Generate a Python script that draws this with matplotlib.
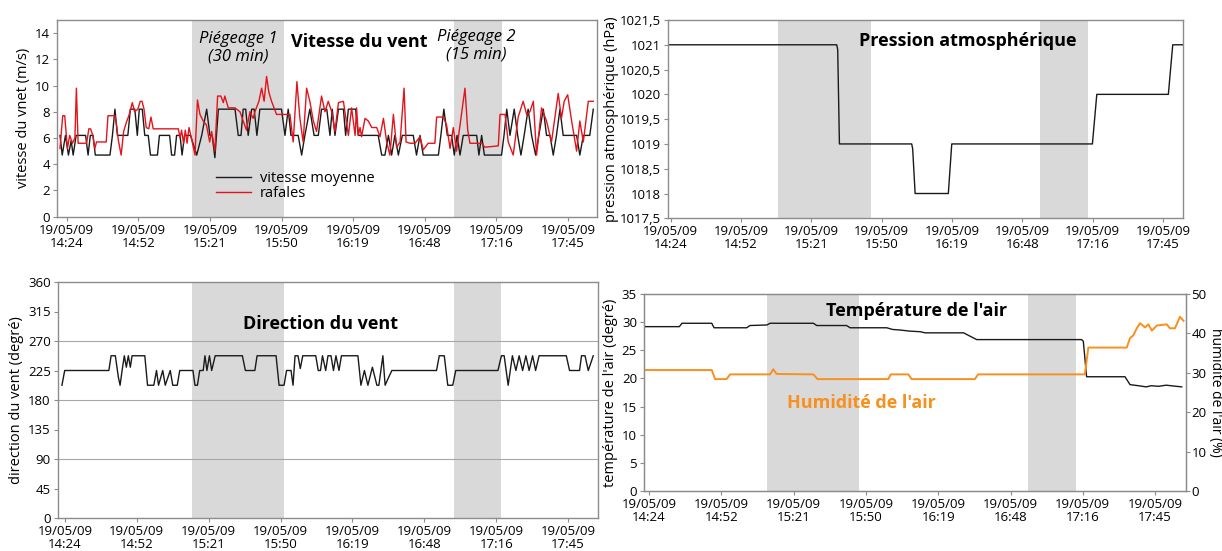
import matplotlib
matplotlib.use("Agg")
import matplotlib.pyplot as plt

plt.rcParams['font.family'] = ['Open Sans', 'DejaVu Sans']

# -------------------------
# data (time = minutes after 19/05/09 14:24)
# -------------------------
tick_pos = [0, 28.8, 57.6, 86.4, 115.2, 144.0, 172.8, 201.6]
tick_labels = ["19/05/09\n14:24", "19/05/09\n14:52", "19/05/09\n15:21", "19/05/09\n15:50",
               "19/05/09\n16:19", "19/05/09\n16:48", "19/05/09\n17:16", "19/05/09\n17:45"]

wind_mean = [(-2.7, 6.2), (-1.8, 4.7), (-0.5, 6.2), (0.7, 4.7), (1.8, 5.8), (2.6, 4.7), (3.8, 6.2),
             (7.6, 6.2), (8.6, 4.7), (9.5, 6.2), (10.6, 6.2), (11.5, 4.7), (17.4, 4.7), (18.4, 6.2),
             (19.4, 8.2), (20.4, 6.2), (24.6, 6.2), (25.6, 8.2), (27.4, 8.2), (28.4, 6.2), (29.2, 8.2),
             (30.4, 8.2), (31.4, 6.2), (32.8, 6.2), (33.7, 4.7), (36.5, 4.7), (37.3, 6.2), (41.4, 6.2),
             (42.2, 4.7), (43.4, 4.7), (44.2, 6.2), (45.6, 6.2), (46.4, 4.7), (47.4, 6.2), (49.8, 6.2),
             (52.3, 4.7), (54.3, 6.2), (56.3, 8.2), (57.6, 6.2), (58.5, 6.2), (59.6, 4.5), (61.0, 8.2),
             (67.7, 8.2), (69.0, 6.2), (70.1, 6.2), (71.0, 8.2), (72.0, 8.2), (73.0, 6.2), (74.4, 8.2),
             (75.4, 8.2), (76.5, 6.2), (77.7, 8.2), (86.4, 8.2), (87.8, 6.2), (89.1, 8.2), (90.2, 6.2),
             (93.1, 6.2), (94.5, 4.7), (95.8, 6.2), (97.8, 8.2), (99.5, 6.2), (101.2, 6.2), (102.5, 8.2),
             (104.6, 8.2), (105.9, 6.2), (106.8, 8.2), (107.9, 6.2), (109.3, 8.2), (111.3, 8.2),
             (112.2, 6.2), (113.3, 8.2), (116.2, 8.2), (117.3, 6.2), (125.3, 6.2), (126.7, 4.7),
             (128.0, 4.7), (129.4, 6.2), (130.7, 4.7), (132.0, 6.2), (133.4, 4.7), (135.0, 6.2),
             (139.4, 6.2), (140.7, 4.7), (142.1, 6.2), (143.4, 4.7), (149.5, 4.7), (150.5, 6.2),
             (151.7, 8.2), (153.1, 6.2), (154.8, 6.2), (155.9, 4.7), (157.0, 6.2), (158.2, 4.7),
             (159.5, 6.2), (164.9, 6.2), (165.8, 4.7), (166.9, 6.2), (168.0, 4.7), (174.9, 4.7),
             (175.9, 6.2), (177.0, 8.2), (178.3, 6.2), (180.0, 8.2), (181.4, 6.2), (182.7, 4.7),
             (184.0, 6.2), (185.6, 8.2), (187.0, 6.2), (188.6, 4.7), (189.9, 6.2), (191.7, 8.2),
             (193.0, 6.2), (194.4, 6.2), (195.7, 4.7), (197.0, 6.2), (198.4, 8.2), (199.7, 6.2),
             (205.1, 6.2), (206.4, 4.7), (207.8, 6.2), (210.4, 6.2), (211.8, 8.2)]

wind_gust = [(-2.7, 5.2), (-1.6, 7.7), (-0.8, 7.7), (0.3, 5.2), (1.2, 6.2), (2.3, 5.6), (3.3, 6.0),
             (3.9, 9.8), (4.6, 5.6), (8.0, 5.6), (8.9, 6.7), (9.6, 6.7), (10.5, 6.2), (11.3, 5.2),
             (12.0, 5.7), (15.9, 5.7), (16.6, 7.7), (19.4, 7.7), (19.9, 7.2), (20.8, 5.8), (21.9, 4.7),
             (22.9, 6.5), (24.0, 7.2), (25.0, 7.7), (26.4, 8.7), (27.3, 8.0), (28.6, 8.2), (29.6, 8.8),
             (30.3, 8.8), (31.1, 8.2), (32.0, 6.8), (33.0, 6.7), (33.9, 7.6), (34.8, 6.7), (44.9, 6.7),
             (45.6, 6.0), (46.2, 6.6), (47.0, 5.6), (47.7, 6.6), (48.4, 5.6), (49.2, 6.8), (50.5, 5.7),
             (51.6, 4.7), (52.6, 8.9), (53.6, 7.8), (54.9, 7.3), (56.2, 7.0), (57.5, 5.7), (58.3, 6.5),
             (59.6, 5.0), (60.7, 9.2), (62.0, 9.2), (63.0, 8.7), (63.6, 9.2), (65.0, 8.3), (67.7, 8.3),
             (69.7, 8.0), (71.0, 7.3), (72.3, 6.6), (73.7, 8.0), (75.0, 7.5), (75.7, 8.0), (77.3, 8.8),
             (78.4, 9.8), (79.4, 8.8), (80.4, 10.7), (81.3, 9.5), (82.4, 8.8), (84.4, 7.8), (89.8, 7.8),
             (91.1, 5.7), (91.8, 7.8), (92.6, 10.3), (93.8, 7.5), (95.1, 5.7), (96.5, 9.8), (97.8, 8.8),
             (99.2, 7.3), (100.5, 6.5), (102.5, 9.2), (103.9, 8.0), (105.2, 8.8), (106.6, 8.0),
             (107.9, 6.5), (109.3, 8.7), (111.3, 8.8), (111.9, 8.0), (113.3, 6.2), (114.6, 8.3),
             (116.0, 6.2), (116.6, 8.3), (117.3, 6.2), (118.0, 6.8), (118.6, 6.1), (120.0, 7.5),
             (121.3, 7.3), (122.7, 6.8), (124.7, 6.8), (126.0, 6.1), (127.4, 7.5), (128.7, 5.7),
             (130.0, 4.7), (131.4, 7.8), (132.7, 5.3), (134.1, 5.7), (135.7, 9.8), (136.5, 5.7),
             (138.1, 5.6), (140.1, 5.6), (142.1, 6.1), (143.4, 5.1), (145.4, 5.6), (148.1, 5.6),
             (148.8, 7.6), (151.5, 7.6), (152.8, 7.0), (154.2, 5.2), (155.5, 6.8), (156.8, 5.0),
             (158.2, 7.0), (160.2, 9.8), (161.3, 6.6), (162.2, 5.6), (166.9, 5.6), (168.2, 5.3),
             (173.6, 5.4), (174.3, 7.8), (176.3, 7.8), (177.6, 5.7), (179.6, 4.7), (181.6, 7.6),
             (183.6, 8.8), (185.0, 7.8), (186.3, 8.0), (187.7, 8.8), (189.0, 4.7), (191.0, 8.3),
             (193.0, 7.3), (195.0, 5.7), (197.7, 9.4), (199.0, 7.5), (200.1, 8.8), (201.5, 9.3),
             (203.1, 7.3), (205.1, 5.0), (206.4, 7.3), (207.8, 5.7), (209.8, 8.8), (211.8, 8.8)]

pressure = [(-1.1, 1021), (68.0, 1021), (68.4, 1020.9), (69.1, 1019), (98.7, 1019), (99.1, 1018.9),
            (100.1, 1018), (113.7, 1018), (115.1, 1019), (172.7, 1019), (174.5, 1020), (203.8, 1020),
            (205.6, 1021), (209.8, 1021)]

direction = [(-1.2, 202.5), (-0.1, 225), (17.6, 225), (18.5, 247.5), (20.2, 247.5), (21.4, 215),
             (22.1, 202.5), (22.9, 225), (23.8, 247.5), (24.6, 230), (25.4, 247.5), (26.2, 230),
             (26.9, 247.5), (32.0, 247.5), (33.1, 202.5), (35.6, 202.5), (36.7, 225), (37.5, 202.5),
             (39.2, 225), (40.2, 202.5), (42.2, 225), (43.2, 202.5), (45.0, 202.5), (46.0, 225),
             (51.3, 225), (52.1, 202.5), (53.1, 202.5), (54.0, 225), (55.4, 225), (56.1, 247.5),
             (56.9, 225), (57.9, 247.5), (58.8, 225), (60.2, 247.5), (71.1, 247.5), (72.3, 225),
             (76.1, 225), (77.0, 247.5), (84.6, 247.5), (85.8, 202.5), (87.8, 202.5), (88.8, 225),
             (90.6, 225), (91.4, 202.5), (92.2, 247.5), (93.4, 247.5), (94.3, 228), (95.3, 247.5),
             (100.5, 247.5), (101.5, 225), (102.4, 225), (103.2, 247.5), (104.5, 225), (105.4, 247.5),
             (106.6, 247.5), (107.6, 225), (108.6, 247.5), (109.8, 225), (110.8, 247.5), (117.4, 247.5),
             (118.6, 202.5), (120.0, 225), (121.4, 202.5), (123.2, 230), (125.0, 202.5), (125.8, 202.5),
             (127.4, 247.5), (128.3, 202.5), (129.4, 212), (131.0, 225), (148.9, 225), (150.0, 247.5),
             (152.0, 247.5), (153.4, 202.5), (155.4, 202.5), (156.6, 225), (173.5, 225), (174.9, 247.5),
             (176.0, 247.5), (177.6, 202.5), (179.3, 247.5), (180.7, 225), (182.0, 247.5), (183.4, 225),
             (184.7, 247.5), (186.0, 225), (187.4, 247.5), (188.6, 225), (190.0, 247.5), (200.9, 247.5),
             (202.2, 225), (206.2, 225), (207.0, 247.5), (208.4, 247.5), (209.7, 225), (211.7, 247.5)]

temperature = [(-1.6, 29.2), (12.1, 29.2), (13.1, 29.8), (25.0, 29.8), (25.9, 29.0), (38.9, 29.0),
               (40.2, 29.4), (47.0, 29.5), (48.2, 29.8), (65.5, 29.8), (66.8, 29.4), (78.7, 29.4),
               (80.1, 29.0), (94.7, 29.0), (97.0, 28.7), (100.0, 28.6), (104.0, 28.4), (108.0, 28.3),
               (110.0, 28.1), (125.3, 28.1), (130.5, 26.9), (172.3, 26.9), (173.0, 26.6), (174.3, 20.3),
               (189.6, 20.3), (191.6, 18.9), (195.0, 18.7), (198.0, 18.5), (200.0, 18.7), (203.0, 18.6),
               (206.0, 18.8), (210.0, 18.6), (212.2, 18.5)]

humidity = [(-1.6, 30.7), (25.0, 30.7), (26.3, 28.4), (30.9, 28.4), (32.3, 29.6), (48.2, 29.6),
            (49.5, 30.9), (50.8, 29.7), (65.5, 29.6), (67.1, 28.4), (95.3, 28.4), (96.3, 29.6),
            (103.3, 29.6), (104.6, 28.4), (129.8, 28.4), (131.1, 29.6), (173.6, 29.6), (175.0, 36.4),
            (190.3, 36.4), (191.6, 38.8), (192.9, 39.5), (194.3, 41.3), (195.6, 42.6), (197.6, 41.5),
            (198.9, 42.3), (200.3, 40.7), (202.3, 42.0), (206.2, 42.3), (207.5, 41.3), (209.5, 41.3),
            (211.5, 44.2), (212.9, 43.2)]

# trapping periods (shaded), as drawn in each panel
shade_wind = [(50.4, 87.4), (155.8, 175.0)]
shade_press = [(44.1, 81.9), (151.3, 171.1)]
shade_dir = [(50.9, 87.8), (155.8, 174.9)]
shade_temp = [(46.9, 83.7), (151.1, 170.1)]

# -------------------------
# figure
# -------------------------
W, H = 1222, 551
fig = plt.figure(figsize=(W / 100, H / 100), dpi=100)


def rect(l, t, r, b):
    return [l / W, 1 - b / H, (r - l) / W, (b - t) / H]


GREY = "#8c8c8c"
SHADE = "#d9d9d9"
FS = 9.5
TITLE_FS = 13
LABEL_FS = 10.5


def style(ax, xlim, shades):
    for s in ax.spines.values():
        s.set_color(GREY)
        s.set_linewidth(1)
    ax.tick_params(color=GREY, length=3, width=0.8, labelsize=FS, pad=2)
    ax.set_xlim(*xlim)
    ax.set_xticks(tick_pos)
    ax.set_xticklabels(tick_labels, linespacing=1.0)
    for a, b in shades:
        ax.axvspan(a, b, color=SHADE, lw=0, zorder=0)


def xy(series):
    return [p[0] for p in series], [p[1] for p in series]


# 1. wind speed
ax1 = fig.add_axes(rect(57, 20, 597, 216.7))
style(ax1, (-3.9, 213.3), shade_wind)
x, y = xy(wind_mean)
ax1.plot(x, y, color="#1a1a1a", lw=1.0, label="vitesse moyenne")
x, y = xy(wind_gust)
ax1.plot(x, y, color="#e3141b", lw=1.0, label="rafales")
ax1.set_ylim(0, 15)
ax1.set_yticks(range(0, 15, 2))
ax1.set_ylabel("vitesse du vnet (m/s)", fontsize=LABEL_FS, labelpad=3)
ax1.legend(frameon=False, loc="upper left", bbox_to_anchor=(0.295, 0.23), fontsize=10.5,
           handlelength=2.4, handletextpad=0.6, labelspacing=0.0, borderpad=0, borderaxespad=0)
ax1.text(0.559, 0.888, "Vitesse du vent", transform=ax1.transAxes, ha="center", va="center",
         fontsize=TITLE_FS, fontweight="bold")
ax1.text(0.335, 0.858, "Piégeage 1\n(30 min)", transform=ax1.transAxes, ha="center", va="center",
         fontsize=12, style="italic", linespacing=1.15)
ax1.text(0.776, 0.868, "Piégeage 2\n(15 min)", transform=ax1.transAxes, ha="center", va="center",
         fontsize=12, style="italic", linespacing=1.15)

# 2. pressure
ax2 = fig.add_axes(rect(668, 20, 1183, 218.3))
style(ax2, (-1.1, 209.8), shade_press)
x, y = xy(pressure)
ax2.plot(x, y, color="#1a1a1a", lw=1.0)
ax2.set_ylim(1017.5, 1021.5)
pticks = [1017.5 + 0.5 * i for i in range(9)]
ax2.set_yticks(pticks)
ax2.set_yticklabels([("%g" % v).replace(".", ",") for v in pticks])
ax2.set_ylabel("pression atmosphérique (hPa)", fontsize=LABEL_FS, labelpad=1)
ax2.text(0.583, 0.894, "Pression atmosphérique", transform=ax2.transAxes, ha="center", va="center",
         fontsize=TITLE_FS, fontweight="bold")

# 3. wind direction
ax3 = fig.add_axes(rect(57.7, 282, 598, 518))
style(ax3, (-2.9, 213.6), shade_dir)
for g in (90, 180, 270):
    ax3.axhline(g, color="#a6a6a6", lw=0.8, zorder=1)
x, y = xy(direction)
ax3.plot(x, y, color="#1a1a1a", lw=1.0, zorder=3)
ax3.set_ylim(0, 360)
ax3.set_yticks(range(0, 361, 45))
ax3.set_ylabel("direction du vent (degré)", fontsize=LABEL_FS, labelpad=3)
ax3.text(0.487, 0.822, "Direction du vent", transform=ax3.transAxes, ha="center", va="center",
         fontsize=TITLE_FS, fontweight="bold")

# 4. temperature and humidity
ax4 = fig.add_axes(rect(644, 294, 1186, 491))
style(ax4, (-2.0, 213.9), shade_temp)
x, y = xy(temperature)
ax4.plot(x, y, color="#1a1a1a", lw=1.0, zorder=3)
ax4.set_ylim(0, 35)
ax4.set_yticks(range(0, 36, 5))
ax4.set_ylabel("température de l'air (degré)", fontsize=LABEL_FS, labelpad=3)
ax4b = ax4.twinx()
x, y = xy(humidity)
ax4b.plot(x, y, color="#f7901e", lw=1.4)
ax4b.set_ylim(0, 50)
ax4b.set_yticks(range(0, 51, 10))
ax4b.tick_params(color=GREY, length=3, width=0.8, labelsize=FS, pad=1)
for s in ax4b.spines.values():
    s.set_color(GREY)
ax4b.set_ylabel("humidité de l'air (%)", fontsize=10, rotation=270,
                va="center", ha="center")
ax4b.yaxis.set_label_coords(1.055, 0.5)
ax4.text(0.502, 0.914, "Température de l'air", transform=ax4.transAxes, ha="center", va="center",
         fontsize=TITLE_FS, fontweight="bold")
ax4.text(0.402, 0.447, "Humidité de l'air", transform=ax4.transAxes, ha="center", va="center",
         fontsize=TITLE_FS, fontweight="bold", color="#f7901e")

fig.savefig("out.png", dpi=100)
